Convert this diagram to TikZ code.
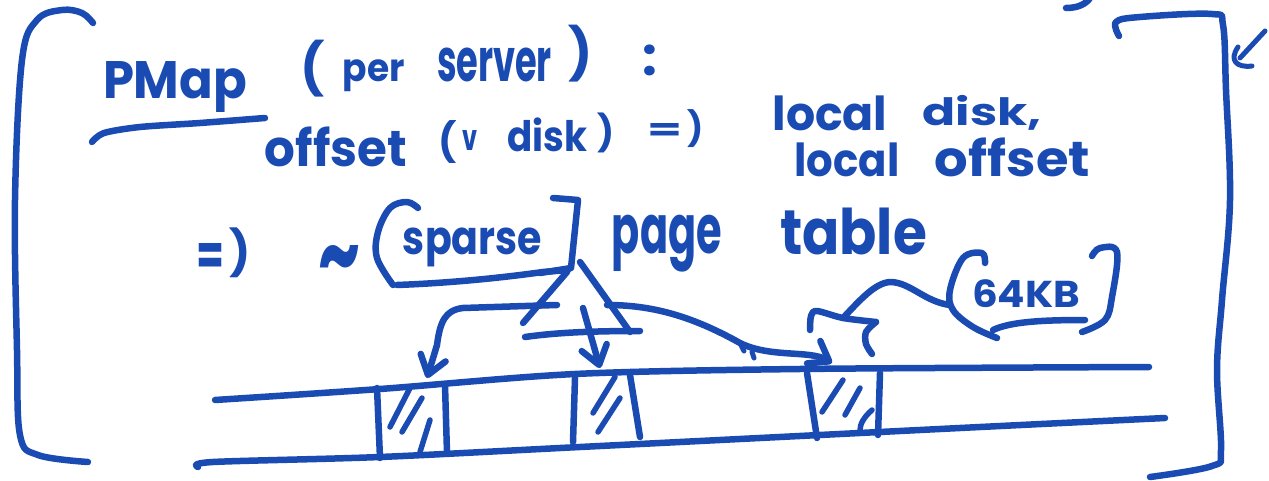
\documentclass[tikz,border=0pt]{standalone}
\usepackage{fontspec}
\setmainfont{Poppins}
\usetikzlibrary{arrows.meta}
\definecolor{ink}{RGB}{26,75,178}
\newcommand{\hw}[3]{\resizebox*{#1pt}{#2pt}{\bfseries #3}}
\newcommand{\hh}[2]{\resizebox*{!}{#1pt}{\bfseries #2}}
\begin{document}
\begin{tikzpicture}[x=1pt,y=-1pt,
  pen/.style={draw=ink, line width=6.5pt, line cap=round, line join=round},
  hatch/.style={pen, line width=5.5pt},
  arr/.style={pen, -{Straight Barb[length=18pt,width=26pt,round]}},
  txt/.style={text=ink, inner sep=0pt, anchor=center}]
\useasboundingbox (0,0) rectangle (1269,481);
% ---------- texts ----------
\node[txt] (pmap) at (175,87.5) {\hw{144}{51}{PMap}};
\node[txt] (lp1) at (313,68.5) {\hh{57}{(}};
\node[txt] (per) at (374,76) {\hw{62}{32}{per}};
\node[txt] (server) at (494.5,65) {\hw{115}{34}{server}};
\node[txt] (rp1) at (581,53.5) {\hh{57}{)}};
\node[txt] (colon) at (650,60) {\hh{31}{:}};
\node[txt] (offset) at (336,147) {\hw{142}{40}{offset}};
\node[txt] (lp2) at (448,142) {\hh{43}{(}};
\node[txt] (v) at (470,140) {\hw{15}{20}{v}};
\node[txt] (disk) at (547,135) {\hw{80}{34}{disk}};
\node[txt] (rp2) at (606,133) {\hh{40}{)}};
\node[txt] (eq1) at (665,132.5) {\hw{35}{17}{=}};
\node[txt] (ar1) at (696,129) {\hh{38}{)}};
\node[txt] (local1) at (830,113) {\hw{115}{35}{local}};
\node[txt] (disk2) at (982,112.5) {\hw{119}{35}{disk,}};
\node[txt] (local2) at (847,160) {\hw{105}{34}{local}};
\node[txt] (offset2) at (1012.5,157.5) {\hw{155}{39}{offset}};
\node[txt] (eq2) at (210,259) {\hw{28}{32}{=}};
\node[txt] (ar2) at (240,253) {\hh{50}{)}};
\node[txt] (tilde) at (339,267) {\hw{42}{44}{\textasciitilde}};
\node[txt] (sparse) at (472.5,247.5) {\hw{139}{39}{sparse}};
\node[txt] (page) at (667,243.5) {\hw{110}{57}{page}};
\node[txt] (table) at (853.5,231.5) {\hw{147}{47}{table}};
\node[txt] (kb) at (1026,294) {\hw{108}{28}{64KB}};
% ---------- brackets ----------
\draw[pen] plot[smooth, tension=0.6] coordinates {(93,23) (82,13) (62,10) (37,20) (22,60) (15,200) (17,350) (20,435) (38,455) (88,462)};
\draw[pen] plot[smooth, tension=0.6] coordinates {(1119,36) (1116,22) (1140,17) (1212,14) (1223,25) (1226,90) (1230,200) (1222,300) (1217,370) (1221,450) (1212,466) (1150,477)};
\draw[pen, line width=5pt] (1265,31) -- (1240,58);
\draw[pen, line width=5pt] (1238,47) .. controls (1229,60) and (1236,68) .. (1252,66);
\draw[pen] (1066,8) .. controls (1078,8) and (1086,4) .. (1090,-2);
% PMap underline
\draw[pen] plot[smooth] coordinates {(92,142) (104,133) (140,127) (200,123) (265,118)};
% ---------- sparse box ----------
\draw[pen] plot[smooth, tension=0.6] coordinates {(418,208) (407,202) (390,208) (378,232) (377,258) (393,285)};
\draw[pen] (397,285) .. controls (450,283) and (500,278) .. (543,272) -- (568,270);
\draw[pen] (553,198) -- (578,200) -- (571,268) -- (540,273);
% ---------- triangle ----------
\draw[pen] (567,272) -- (523,323);
\draw[pen] (580,262) -- (630,332);
\draw[pen] (525,337) .. controls (560,332) and (600,331) .. (640,331);
% ---------- arrows ----------
\coordinate (tL) at (557,305);
\coordinate (tM) at (583,308);
\coordinate (tR) at (607,305);
\coordinate (c1) at (427,378);
\coordinate (c2) at (600,368);
\coordinate (c3) at (832,363);
\draw[arr] (tL) -- (463,308) .. controls (445,310) and (440,322) .. (437,345) -- (c1);
\draw[arr] (tM) -- (c2);
\draw[arr] (tR) .. controls (650,305) and (690,315) .. (740,343) .. controls (770,358) and (810,350) .. (c3);
\draw[pen, line width=5pt] (741,345) -- (744,351);
\draw[pen, line width=5pt] (752,352) -- (754,358);
% ---------- tape ----------
\draw[pen] plot[smooth, tension=0.5] coordinates {(215,400) (380,389) (575,374) (800,369) (1149,367)};
\draw[pen] plot[smooth, tension=0.5] coordinates {(198,467) (213,462) (380,457) (580,447) (960,428) (1165,418)};
% cell 1
\draw[pen] (377,388) -- (380,458);
\draw[pen] (445,385) -- (447,453);
\draw[hatch] (410,388) -- (390,427);
\draw[hatch] (422,398) -- (402,432);
\draw[hatch] (430,420) -- (420,452);
% cell 2
\draw[pen] (575,378) -- (573,442);
\draw[pen] (630,375) -- (640,437);
\draw[hatch] (615,377) -- (593,413);
\draw[hatch] (620,398) -- (598,432);
% cell 3
\draw[pen] (807,373) -- (817,438);
\draw[pen] (880,373) -- (878,435);
\draw[hatch] (843,380) -- (822,412);
\draw[hatch] (860,388) -- (845,415);
\draw[hatch] (872,410) .. controls (864,417) and (860,424) .. (860,430);
% ---------- 64KB ----------
\draw[pen] plot[smooth, tension=0.5] coordinates {(810,330) (811,316) (817,311) (843,318) (876,322)};
\draw[pen] plot[smooth, tension=0.5] coordinates {(876,322) (866,332) (866,344) (872,354)};
\coordinate (capm) at (843,318);
\coordinate (kbl) at (950,305);
\draw[pen] (capm) .. controls (860,300) and (875,283) .. (890,282) .. controls (910,282) and (925,302) .. (kbl);
\draw[pen] plot[smooth, tension=0.6] coordinates {(985,263) (982,253) (963,258) (950,290) (953,310) (973,327) (997,338)};
\draw[pen] (993,330) .. controls (1010,322) and (1040,320) .. (1085,320);
\draw[pen] plot[smooth, tension=0.6] coordinates {(1092,256) (1100,248) (1117,252) (1112,297) (1105,320) (1082,332)};
\end{tikzpicture}
\end{document}
